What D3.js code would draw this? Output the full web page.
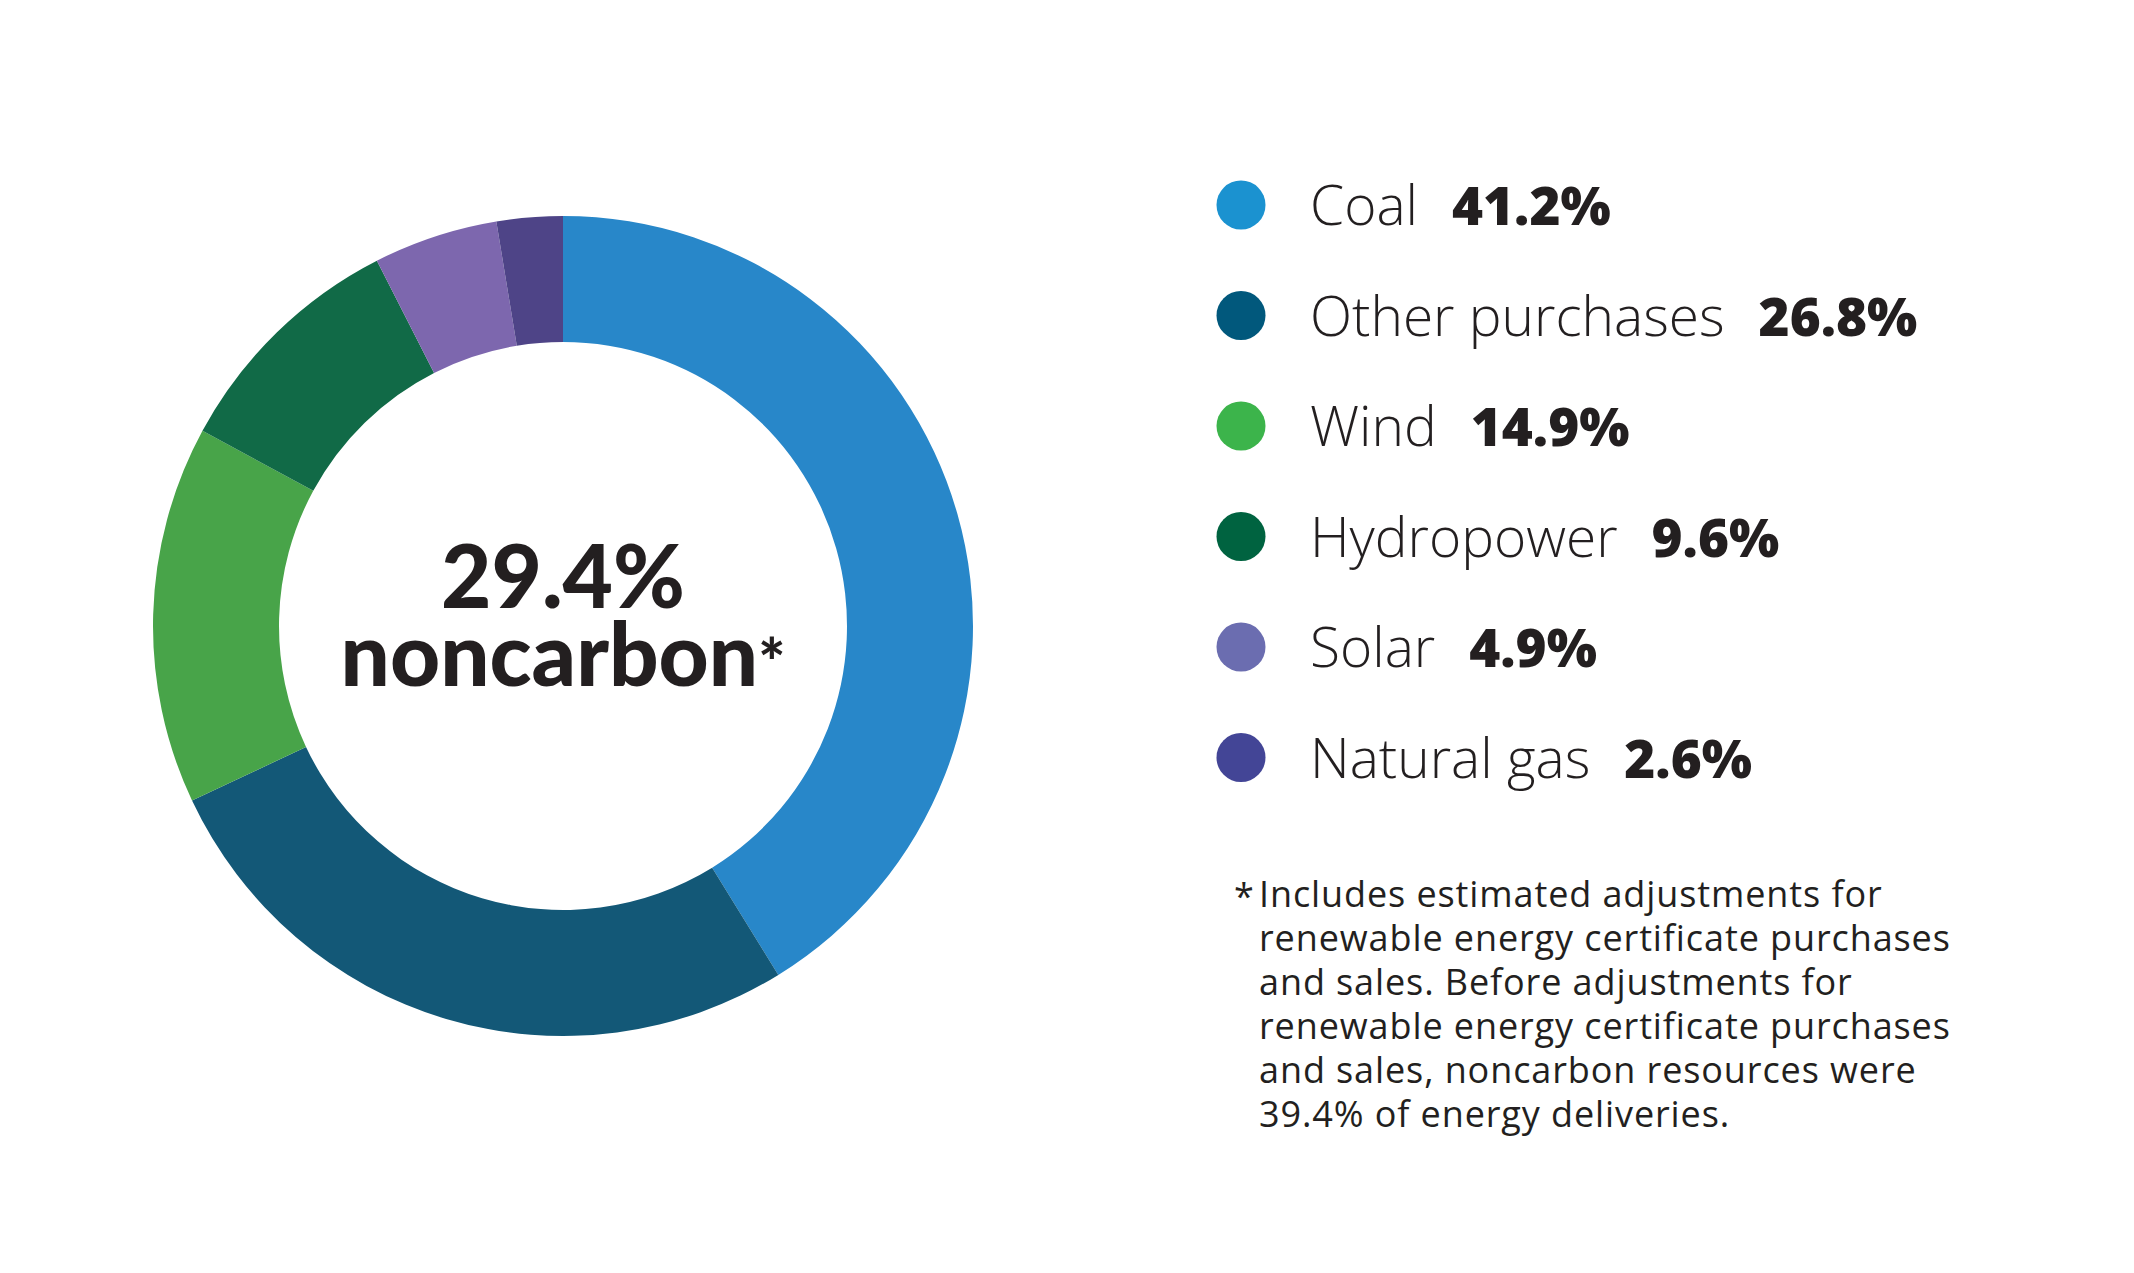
<!DOCTYPE html>
<html>
<head>
<meta charset="utf-8">
<script src="https://cdn.jsdelivr.net/npm/d3@7"></script>
<style>
    html, body { margin: 0; padding: 0; background: #fff; }
    svg { display: block; }
    .label { font-family: 'Open Sans', Lato, sans-serif; font-weight: 300; fill: #231f20; }
    .value { font-family: 'Open Sans', Lato, sans-serif; font-weight: 800; fill: #231f20; }
    .center { font-family: Lato, 'Open Sans', sans-serif; font-weight: 900; fill: #231f20; }
    .note { font-family: 'Open Sans', Lato, sans-serif; font-weight: 400; fill: #231f20; letter-spacing: 0.9px; }
</style>
</head>
<body>
<svg id="chart"></svg>
<script>
// Energy mix shares, in percent.
const categories = ['Coal', 'Other purchases', 'Wind', 'Hydropower', 'Solar', 'Natural gas'];
const shares = [41.2, 26.8, 14.9, 9.6, 4.9, 2.6];
const noncarbon = ['Wind', 'Hydropower', 'Solar'];

const footnote = [
    'Includes estimated adjustments for',
    'renewable energy certificate purchases',
    'and sales. Before adjustments for',
    'renewable energy certificate purchases',
    'and sales, noncarbon resources were',
    '39.4% of energy deliveries.',
];

// Slice colours and the slightly brighter legend dot colours.
const sliceColors = ['#2887c9', '#135877', '#48a449', '#116a47', '#7d67ae', '#4e4487'];
const dotColors = ['#1b92d0', '#01587c', '#3cb44b', '#006340', '#6b6db0', '#434596'];

const width = 2134;
const height = 1273;

const svg = d3.select('#chart').attr('width', width).attr('height', height);

// Donut.
const cx = 563;
const cy = 626;
const outerRadius = 410;
const innerRadius = 284;

const color = d3.scaleOrdinal().domain(categories).range(sliceColors);
const dotColor = d3.scaleOrdinal().domain(categories).range(dotColors);

const pie = d3.pie().sort(null).value((d, i) => shares[i]);
const arc = d3.arc().innerRadius(innerRadius).outerRadius(outerRadius);

svg.append('g')
    .attr('transform', `translate(${cx}, ${cy})`)
    .selectAll('path')
    .data(pie(categories))
    .enter()
    .append('path')
    .attr('d', arc)
    .attr('fill', d => color(d.data));

// Center label, sum of the noncarbon shares.
const noncarbonTotal = d3.sum(categories, (c, i) => (noncarbon.includes(c) ? shares[i] : 0));

const center = svg.append('text')
    .attr('class', 'center')
    .attr('text-anchor', 'middle')
    .attr('font-size', 87);
center.append('tspan')
    .attr('x', cx)
    .attr('y', 608)
    .text(`${noncarbonTotal.toFixed(1)}%`);
center.append('tspan')
    .attr('x', cx)
    .attr('y', 686)
    .text('noncarbon')
    .append('tspan')
    .attr('font-size', 64)
    .text('*');

// Legend.
const legendX = 1241;
const legendTop = 205;
const rowStep = 110.5;

const legend = svg.append('g');
const rows = legend.selectAll('.row')
    .data(categories)
    .enter()
    .append('g')
    .attr('class', 'row')
    .attr('transform', (d, i) => `translate(${legendX}, ${legendTop + i * rowStep})`);

rows.append('circle')
    .attr('r', 24.5)
    .attr('fill', d => dotColor(d));

rows.append('text')
    .attr('class', 'label')
    .attr('x', 69)
    .attr('y', 20)
    .attr('font-size', 55)
    .text(d => d);

rows.each(function (d, i) {
    const row = d3.select(this);
    const labelWidth = row.select('.label').node().getComputedTextLength();
    row.append('text')
        .attr('class', 'value')
        .attr('x', 69 + labelWidth + 34)
        .attr('y', 20)
        .attr('font-size', 53)
        .text(`${shares[i].toFixed(1)}%`);
});

// Footnote.
const note = svg.append('text').attr('class', 'note').attr('font-size', 36);
note.append('tspan').attr('x', 1234).attr('y', 909).text('*');
note.selectAll('.line')
    .data(footnote)
    .enter()
    .append('tspan')
    .attr('class', 'line')
    .attr('x', 1259)
    .attr('y', (d, i) => 907 + i * 44)
    .text(d => d);
</script>
</body>
</html>
